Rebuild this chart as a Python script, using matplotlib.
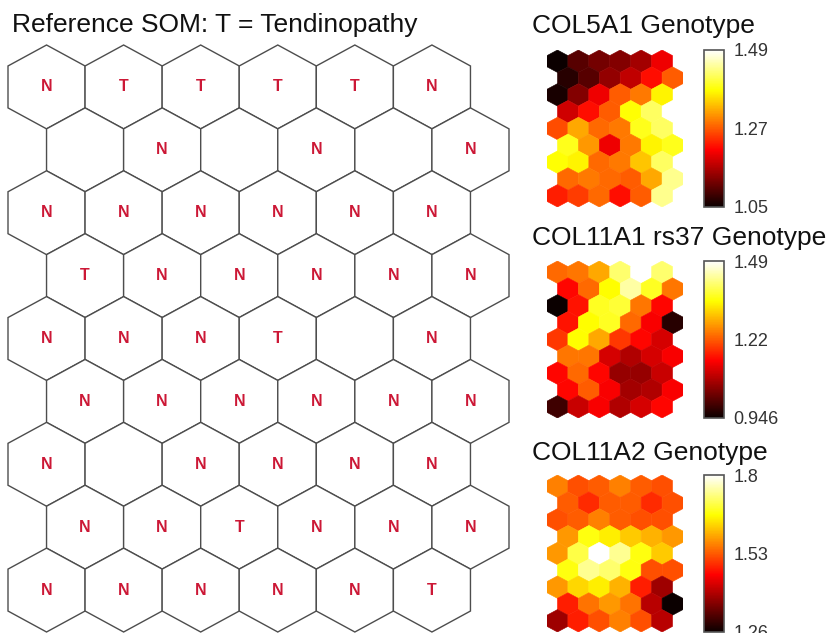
import numpy as np
import matplotlib
matplotlib.use("Agg")
import matplotlib.pyplot as plt
from matplotlib.patches import RegularPolygon
from matplotlib.collections import PolyCollection
from matplotlib.colors import Normalize

plt.rcParams['font.family'] = ['Liberation Sans', 'DejaVu Sans']

# ---- data -------------------------------------------------------------
n_rows, n_cols = 9, 6

# reference SOM labels (row by row, top to bottom); '' = empty unit
som_labels = [
    ["N", "T", "T", "T", "T", "N"],
    ["", "N", "", "N", "", "N"],
    ["N", "N", "N", "N", "N", "N"],
    ["T", "N", "N", "N", "N", "N"],
    ["N", "N", "N", "T", "", "N"],
    ["N", "N", "N", "N", "N", "N"],
    ["N", "", "N", "N", "N", "N"],
    ["N", "N", "T", "N", "N", "N"],
    ["N", "N", "N", "N", "N", "T"],
]

col5a1 = [
    [1.05, 1.10, 1.12, 1.13, 1.15, 1.20],
    [1.07, 1.10, 1.14, 1.17, 1.22, 1.27],
    [1.06, 1.13, 1.20, 1.27, 1.29, 1.37],
    [1.18, 1.22, 1.27, 1.38, 1.42, 1.49],
    [1.26, 1.32, 1.28, 1.29, 1.39, 1.42],
    [1.39, 1.31, 1.20, 1.29, 1.37, 1.39],
    [1.38, 1.37, 1.28, 1.29, 1.34, 1.42],
    [1.28, 1.29, 1.28, 1.27, 1.32, 1.44],
    [1.23, 1.25, 1.28, 1.22, 1.27, 1.44],
]

col11a1_rs37 = [
    [1.23, 1.24, 1.28, 1.41, 1.49, 1.41],
    [1.15, 1.23, 1.35, 1.44, 1.37, 1.24],
    [0.946, 1.16, 1.37, 1.38, 1.24, 1.15],
    [1.16, 1.35, 1.37, 1.23, 1.14, 0.97],
    [1.19, 1.35, 1.28, 1.19, 1.15, 1.11],
    [1.24, 1.24, 1.11, 1.08, 1.11, 1.14],
    [1.15, 1.23, 1.15, 1.06, 1.06, 1.10],
    [1.15, 1.22, 1.14, 1.07, 1.08, 1.14],
    [0.99, 1.10, 1.14, 1.08, 1.11, 1.15],
]

col11a2 = [
    [1.56, 1.52, 1.53, 1.56, 1.53, 1.52],
    [1.53, 1.49, 1.53, 1.53, 1.49, 1.52],
    [1.52, 1.53, 1.56, 1.53, 1.52, 1.52],
    [1.58, 1.67, 1.65, 1.62, 1.60, 1.58],
    [1.58, 1.70, 1.80, 1.74, 1.67, 1.62],
    [1.67, 1.74, 1.72, 1.67, 1.52, 1.52],
    [1.58, 1.63, 1.65, 1.60, 1.48, 1.38],
    [1.48, 1.55, 1.58, 1.55, 1.40, 1.26],
    [1.38, 1.48, 1.52, 1.56, 1.52, 1.40],
]

map_titles = ["COL5A1 Genotype", "COL11A1 rs37 Genotype", "COL11A2 Genotype"]
map_values = [col5a1, col11a1_rs37, col11a2]

# ---- hex grid geometry ------------------------------------------------
R = 1 / np.sqrt(3)          # circumradius for unit column spacing
dy = 1.5 * R                # row spacing


def centers():
    out = []
    for r in range(n_rows):
        for c in range(n_cols):
            out.append((c + 0.5 * (r % 2), -r * dy))
    return out


def hex_verts(x, y):
    ang = np.deg2rad(90 + 60 * np.arange(6))
    return np.column_stack([x + R * np.cos(ang), y + R * np.sin(ang)])


XLIM = (-0.5, n_cols)
YLIM = (-(n_rows - 1) * dy - R, R)

W, H = 832, 633
fig = plt.figure(figsize=(W / 100, H / 100), dpi=100)


def px_axes(left, top, right, bottom):
    return fig.add_axes([left / W, 1 - bottom / H, (right - left) / W, (bottom - top) / H])


# ---- reference SOM ----------------------------------------------------
ax = px_axes(8, 45, 509, 632)
for (x, y), lab in zip(centers(), [l for row in som_labels for l in row]):
    ax.add_patch(RegularPolygon((x, y), numVertices=6, radius=R, orientation=0,
                                facecolor="white", edgecolor="#4d4d4d",
                                linewidth=1.0, clip_on=False))
    if lab:
        ax.text(x, y, lab, ha="center", va="center", color="#cc1836",
                fontsize=11.5, fontweight="bold")
ax.set_xlim(XLIM)
ax.set_ylim(YLIM)
ax.axis("off")
fig.text(12 / W, 1 - 32 / H, "Reference SOM: T = Tendinopathy",
         fontsize=19, color="#111111", va="baseline")

# ---- component planes -------------------------------------------------
panel_tops = [50, 261, 475]
title_base = [33, 245, 460]
panel_h = 157
verts = [hex_verts(x, y) for x, y in centers()]

for vals, title, top, tb in zip(map_values, map_titles, panel_tops, title_base):
    flat = np.array(vals, dtype=float).ravel()
    vmin, vmax = flat.min(), flat.max()
    axm = px_axes(547, top, 683, top + panel_h)
    coll = PolyCollection(verts, array=flat, cmap="hot",
                          norm=Normalize(vmin, vmax), edgecolors="face",
                          linewidths=0.4)
    axm.add_collection(coll)
    axm.set_xlim(XLIM)
    axm.set_ylim(YLIM)
    axm.axis("off")

    cax = px_axes(704, top, 724, top + panel_h)
    cb = fig.colorbar(coll, cax=cax)
    ticks = [vmin, (vmin + vmax) / 2, vmax]
    cb.set_ticks(ticks)
    cb.set_ticklabels(["%.3g" % t for t in ticks])
    cb.outline.set_edgecolor("#555555")
    cb.outline.set_linewidth(1.2)
    cax.tick_params(length=0, pad=7, labelsize=13, labelcolor="#333333")

    fig.text(532 / W, 1 - tb / H, title, fontsize=19, color="#111111",
             va="baseline")

fig.savefig("out.png", dpi=100, facecolor="white")
